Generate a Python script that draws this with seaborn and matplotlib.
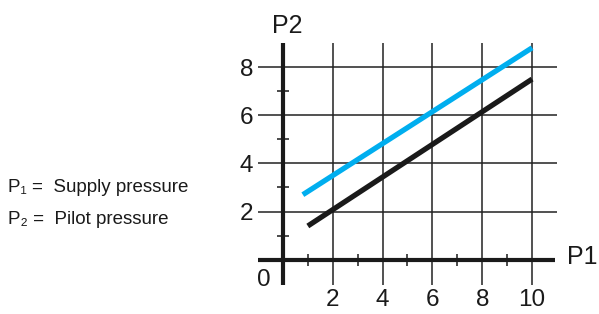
import pandas as pd
import seaborn as sns
from matplotlib import pyplot as plt

# Dades llegides del gràfic
p1_supply = [0.8, 10]
p2_blue = [2.7, 8.8]
p1_black = [1, 10]
p2_black = [1.4, 7.5]

x_grid = [2, 4, 6, 8, 10]
y_grid = [2, 4, 6, 8]
x_minor = [1, 3, 5, 7, 9]
y_minor = [1, 3, 5, 7]

sns.set_style("white")
plt.rcParams["font.family"] = ["Liberation Sans", "DejaVu Sans"]

df = pd.concat([
    pd.DataFrame({"P1": p1_supply, "P2": p2_blue, "serie": "blau"}),
    pd.DataFrame({"P1": p1_black, "P2": p2_black, "serie": "negre"}),
])

fig = plt.figure(figsize=(5.99, 3.14), dpi=100)
ax = fig.add_axes([0.4307, 0.0924, 0.4992, 0.7707])

sns.lineplot(data=df, x="P1", y="P2", hue="serie",
             palette={"blau": "#00aeef", "negre": "#1a1a1a"},
             linewidth=3.8, legend=False, ax=ax, zorder=4)
for l in ax.lines:
    l.set_solid_capstyle("butt")

ax.set_xlim(-1, 11)
ax.set_ylim(-1.05, 9)
ax.set_xticks(x_grid)
ax.set_yticks(y_grid)
ax.grid(True, color="#222222", linewidth=1.1)
ax.tick_params(length=0, labelsize=17.5, colors="#1a1a1a")
ax.tick_params(axis="x", pad=3)
ax.tick_params(axis="y", pad=3.5)
for s in ax.spines.values():
    s.set_visible(False)
ax.set_xlabel("")
ax.set_ylabel("")

# eixos
ax.hlines(0, -1, 10.9, color="#1a1a1a", linewidth=3.0, zorder=3)
ax.vlines(0, -1.05, 9, color="#1a1a1a", linewidth=3.0, zorder=3)
ax.vlines(x_minor, -0.25, 0.25, color="#1a1a1a", linewidth=1.1, zorder=3)
ax.hlines(y_minor, -0.25, 0.25, color="#1a1a1a", linewidth=1.1, zorder=3)

ax.text(-0.76, -0.86, "0", fontsize=17.5, ha="center", va="center", color="#1a1a1a")
ax.text(0.16, 9.7, "P2", fontsize=18, ha="center", va="center", color="#1a1a1a",
        clip_on=False)
ax.text(12.0, 0.1, "P1", fontsize=18, ha="center", va="center", color="#1a1a1a",
        clip_on=False)

fig.text(8 / 599, 1 - 188 / 314, "P\u2081 =  Supply pressure", fontsize=13.5,
         va="center", ha="left", color="#1a1a1a")
fig.text(8 / 599, 1 - 219 / 314, "P\u2082 =  Pilot pressure", fontsize=13.5,
         va="center", ha="left", color="#1a1a1a")

plt.savefig("out.png", dpi=100)
